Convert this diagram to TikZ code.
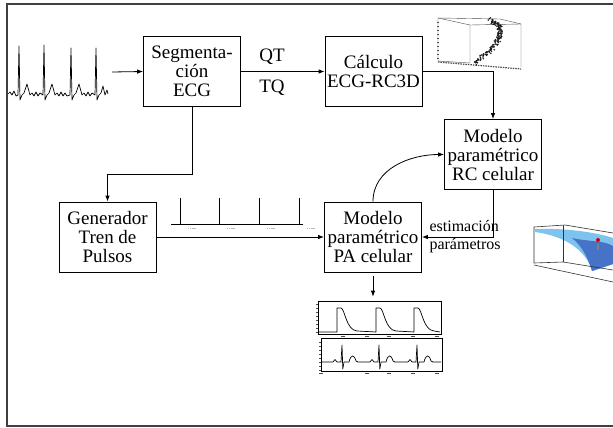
\documentclass[tikz,border=0pt]{standalone}
\usepackage{fontspec}
\setmainfont{Liberation Serif}
\usetikzlibrary{positioning, arrows.meta, calc}

\definecolor{surflight}{RGB}{125,195,238}
\definecolor{surfdark}{RGB}{70,115,200}

\tikzset{
  blockbox/.style={draw, line width=0.8pt, fill=white, minimum width=97pt, minimum height=70pt,
    inner sep=0pt, align=center, font=\fontsize{19}{19}\selectfont},
  conn/.style={-{Latex[length=6pt,width=4.5pt]}, line width=0.8pt},
  plotframe/.style={draw, line width=0.6pt, inner sep=0pt},
  tinytick/.style={line width=0.4pt, black!70}
}

\begin{document}
\begin{tikzpicture}[x=1pt, y=-1pt]
  \useasboundingbox (0,0) rectangle (613,428);

  % outer frame
  \draw[line width=1.2pt, black!75] (613,4) -- (7,4) -- (7,426) -- (613,426);

  % ECG input signal
  \draw[line width=0.7pt, line join=round]
    (8,94) -- (10,92) -- (12,95) -- (14,91) -- (16,96) -- (18,95)
    -- (19,46) -- (20,100) -- (22,95) -- (24,93) -- (27,84) -- (30,95) -- (32,93) -- (34,96) -- (36,92) -- (38,96) -- (40,93) -- (43,95)
    -- (44,45) -- (45,100) -- (47,95) -- (49,93) -- (52,84) -- (55,95) -- (57,93) -- (59,96) -- (61,92) -- (63,96) -- (65,93) -- (67,96) -- (70,95)
    -- (71,48) -- (72,100) -- (74,95) -- (76,93) -- (79,84) -- (82,95) -- (84,93) -- (86,96) -- (88,92) -- (90,96) -- (92,93) -- (95,95)
    -- (96,48) -- (97,100) -- (99,95) -- (101,93) -- (103,86) -- (105,95) -- (107,90) -- (108,94);
  \coordinate (ecgout) at (112,72);

  % blocks
  \node[blockbox] (seg) at (192,71.5) {Segmenta-\\ción\\ECG};
  \node[blockbox] (calc) at (373.5,71.5) {Cálculo\\ECG-RC3D};
  \node[blockbox] (rc) at (493,154.5) {Modelo\\paramétrico\\RC celular};
  \node[blockbox] (gen) at (107.5,237) {Generador\\Tren de\\Pulsos};
  \node[blockbox] (pa) at (373,237) {Modelo\\paramétrico\\PA celular};

  % connectors
  \draw[conn] (ecgout) -- (seg.west);
  \draw[conn] (seg.east) -- (calc.west);
  \node[font=\fontsize{19}{19}\selectfont] (qt) at (272,57) {QT};
  \node[font=\fontsize{19}{19}\selectfont] (tq) at (272,88) {TQ};
  \draw[conn] (calc.east) -| (rc.north);
  \coordinate (segbend) at (192,174);
  \draw[conn] (seg.south) -- (segbend) -| (gen.north);
  \draw[conn] (gen.east) -- (pa.west);
  \draw[conn] (pa.north) to[out=90, in=180] (rc.west);
  \draw[conn] (rc.south) |- (pa.east);
  \node[font=\fontsize{16}{18}\selectfont, align=left, anchor=west] (est) at (426,237) {estimación\\parámetros};

  % pulse train
  \draw[line width=0.8pt] (171,224) -- (303,224);
  \foreach \px in {180,219,259,299}{
    \draw[line width=0.8pt] (\px,224) -- (\px,198);
    \draw[gray!55, line width=1.4pt, dash pattern=on 1.2pt off 0.6pt] (\px+8,228.5) -- (\px+16,228.5);
  }

  % scatter plot (RC3D)
  \begin{scope}[line width=0.4pt, black!70]
    \draw (438,18) -- (500,19) -- (521,24) -- (521,67);
    \draw (438,18) -- (470,25) -- (470,63) -- (438,61) -- cycle;
    \draw (470,25) -- (521,24);
    \draw[line width=1.2pt, dash pattern=on 1.5pt off 1pt] (438,62) -- (521,69);
    \draw[line width=1.1pt, dash pattern=on 1pt off 3pt] (438,22) -- (438,60);
  \end{scope}
  \pgfmathsetseed{7}
  \foreach \i in {0,...,160}{
    \path (474,63) .. controls (500,46) and (510,25) .. (489,20) coordinate[pos=\i/160] (dot);
    \fill[black!90] ($(dot)+(rand*2.6,rand*2.2)$) circle (0.85pt);
  }

  % parameter surface
  \fill[surflight] (535,229) .. controls (565,228) and (595,232) .. (613,238) -- (613,264)
    -- (592,271) .. controls (586,250) and (565,236) .. (535,232) -- cycle;
  \fill[surfdark] (572,238) .. controls (590,242) and (603,240) .. (613,246) -- (613,264)
    -- (592,271) .. controls (588,258) and (582,246) .. (572,238) -- cycle;
  \begin{scope}[line width=0.6pt, black!80]
    \draw (534,263) -- (534,227) -- (565,225) -- (613,233);
    \draw (563,225) -- (563,262);
    \draw (534,263) -- (563,262) -- (613,270);
    \draw (534,265) -- (613,282);
  \end{scope}
  \fill[red!80!black] (598,240) circle (2pt);
  \fill[gray] (597,244) rectangle (599,250);

  % action potential output
  \node[plotframe, minimum width=123pt, minimum height=33pt] (apbox) at (379.5,317.5) {};
  \draw[conn, shorten <=4pt, shorten >=4pt] (pa.south) -- (apbox.north -| pa.south);
  \draw[line width=0.7pt, line join=round] (319,332)
    \foreach \u in {337,376,414}{
      -- (\u,332) -- (\u,308) -- (\u+4,308) .. controls (\u+8,309) and (\u+9,330) .. (\u+20,331)
    } -- (440,332);
  \foreach \ty in {304,308,...,332}
    \draw[tinytick] (318,\ty) -- (316,\ty);
  \foreach \tx in {343,367,389,413,437}
    \draw[tinytick, line width=1pt] (\tx-2,336) -- (\tx+2,336);

  % ECG output
  \node[plotframe, minimum width=121pt, minimum height=33pt] (ecgbox) at (381.5,354.5) {};
  \draw[line width=0.7pt, line join=round] (322,362)
    \foreach \q in {342,379,417}{
      -- (\q-9,362) -- (\q-7,359.5) -- (\q-5,362) -- (\q-1,362) -- (\q,345) -- (\q+0.8,369) -- (\q+2,362)
      -- (\q+7,362) .. controls (\q+9,354) and (\q+12,354) .. (\q+14,361) -- (\q+16,362)
    } -- (441,362);
  \foreach \ty in {342,346,...,370}
    \draw[tinytick] (321,\ty) -- (319,\ty);
  \foreach \tx in {321,367,389,413,437}
    \draw[tinytick, line width=1pt] (\tx-2,373) -- (\tx+2,373);
\end{tikzpicture}
\end{document}
